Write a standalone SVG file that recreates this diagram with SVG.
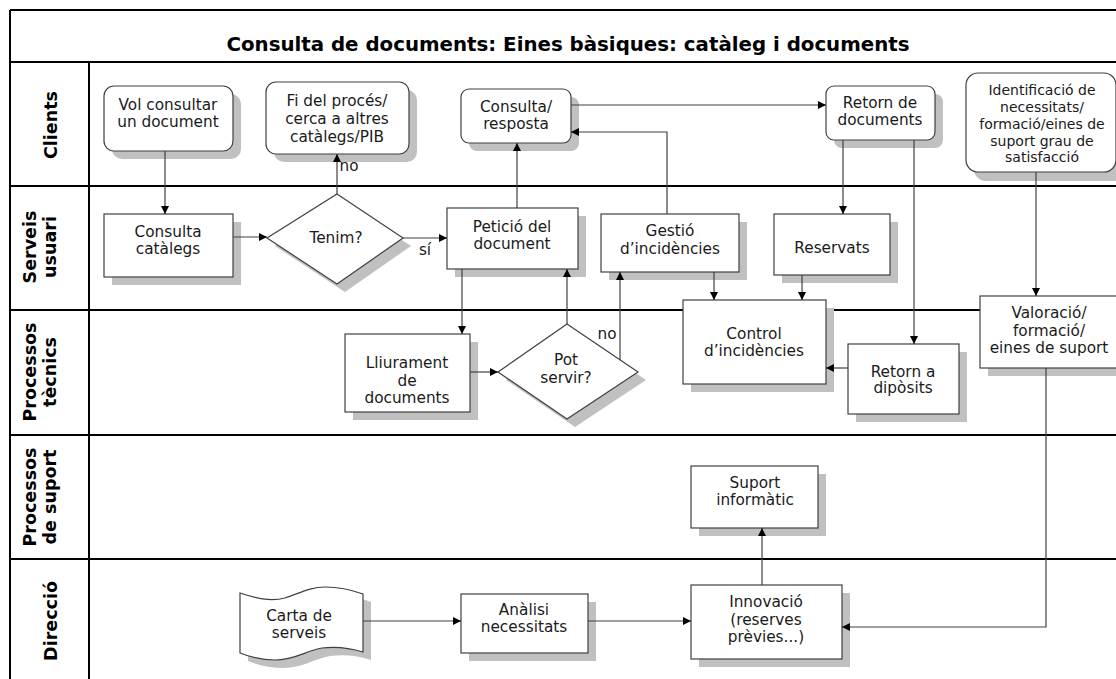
<svg xmlns="http://www.w3.org/2000/svg" width="1116" height="679" viewBox="0 0 1116 679">
<defs>
<style>
.frame{fill:none;stroke:#000;stroke-width:2}
.box{fill:#fff;stroke:#404040;stroke-width:1.2}
.sh{fill:#c0c0c0;stroke:none}
.t{font-family:"DejaVu Sans",Verdana,sans-serif;font-size:15.3px;fill:#1a1a1a;text-anchor:middle}
.ts{font-family:"DejaVu Sans",Verdana,sans-serif;font-size:14px;fill:#1a1a1a;text-anchor:middle}
.lane{font-family:"DejaVu Sans",Verdana,sans-serif;font-size:17.5px;font-weight:bold;fill:#000;text-anchor:middle}
.title{font-family:"DejaVu Sans",Verdana,sans-serif;font-size:19.8px;font-weight:bold;fill:#000;text-anchor:middle}
.c{fill:none;stroke:#404040;stroke-width:1.2}
</style>
<marker id="arr" viewBox="0 0 10 10" refX="10" refY="5" markerWidth="8" markerHeight="8" markerUnits="userSpaceOnUse" orient="auto">
<path d="M0,0 L10,5 L0,10 z" fill="#000"/>
</marker>
</defs>
<rect width="1116" height="679" fill="#fff"/>

<g id="frame">
<line class="frame" x1="10" y1="10" x2="1116" y2="10"/>
<line class="frame" x1="10" y1="10" x2="10" y2="679"/>
<line class="frame" x1="10" y1="62" x2="1116" y2="62"/>
<line class="frame" x1="89" y1="62" x2="89" y2="679"/>
<line class="frame" x1="10" y1="186" x2="1116" y2="186"/>
<line class="frame" x1="10" y1="310" x2="1116" y2="310"/>
<line class="frame" x1="10" y1="435" x2="1116" y2="435"/>
<line class="frame" x1="10" y1="559" x2="1116" y2="559"/>
<text class="title" x="568" y="51">Consulta de documents: Eines bàsiques: catàleg i documents</text>
</g>

<g id="lanes">
<text class="lane" transform="translate(57,125) rotate(-90)">Clients</text>
<text class="lane" transform="translate(36,247) rotate(-90)">Serveis</text>
<text class="lane" transform="translate(56,247) rotate(-90)">usuari</text>
<text class="lane" transform="translate(36,372) rotate(-90)">Processos</text>
<text class="lane" transform="translate(56,372) rotate(-90)">tècnics</text>
<text class="lane" transform="translate(36,497) rotate(-90)">Processos</text>
<text class="lane" transform="translate(56,497) rotate(-90)">de suport</text>
<text class="lane" transform="translate(57,621) rotate(-90)">Direcció</text>
</g>

<g id="n-vol">
<rect class="sh" x="112" y="94" width="129" height="65" rx="10"/>
<rect class="box" x="104" y="86" width="129" height="65" rx="10"/>
<text class="t" x="168" y="110">Vol consultar</text>
<text class="t" x="168" y="127">un document</text>
</g>

<g id="n-fi">
<rect class="sh" x="274" y="90" width="143" height="72" rx="10"/>
<rect class="box" x="266" y="82" width="143" height="72" rx="10"/>
<text class="t" x="337" y="106">Fi del procés/</text>
<text class="t" x="337" y="124">cerca a altres</text>
<text class="t" x="337" y="142">catàlegs/PIB</text>
</g>

<g id="n-consulta-resposta">
<rect class="sh" x="469" y="97" width="110" height="54" rx="8"/>
<rect class="box" x="461" y="89" width="110" height="54" rx="8"/>
<text class="t" x="516" y="112">Consulta/</text>
<text class="t" x="516" y="129">resposta</text>
</g>

<g id="n-retorn-docs">
<rect class="sh" x="834" y="94" width="109" height="54" rx="8"/>
<rect class="box" x="826" y="86" width="109" height="54" rx="8"/>
<text class="t" x="880" y="108">Retorn de</text>
<text class="t" x="880" y="125">documents</text>
</g>

<g id="n-identificacio">
<rect class="sh" x="974" y="81" width="160" height="100" rx="12"/>
<rect class="box" x="966" y="73" width="150" height="99" rx="12"/>
<text class="ts" x="1042" y="95">Identificació de</text>
<text class="ts" x="1042" y="112">necessitats/</text>
<text class="ts" x="1042" y="129">formació/eines de</text>
<text class="ts" x="1042" y="146">suport grau de</text>
<text class="ts" x="1042" y="162">satisfacció</text>
</g>

<g id="n-consulta-catalegs">
<rect class="sh" x="112" y="222" width="129" height="63"/>
<rect class="box" x="104" y="214" width="129" height="63"/>
<text class="t" x="168" y="237">Consulta</text>
<text class="t" x="168" y="254">catàlegs</text>
</g>

<g id="n-tenim">
<polygon class="sh" points="345,202 411,246 345,292 275,246"/>
<polygon class="box" points="337,194 403,238 337,284 267,238"/>
<text class="t" x="336" y="243">Tenim?</text>
</g>

<g id="n-peticio">
<rect class="sh" x="455" y="216" width="131" height="61"/>
<rect class="box" x="447" y="208" width="131" height="61"/>
<text class="t" x="512" y="232">Petició del</text>
<text class="t" x="512" y="249">document</text>
</g>

<g id="n-gestio">
<rect class="sh" x="609" y="222" width="138" height="58"/>
<rect class="box" x="601" y="214" width="138" height="58"/>
<text class="t" x="670" y="236">Gestió</text>
<text class="t" x="670" y="254">d’incidències</text>
</g>

<g id="n-reservats">
<rect class="sh" x="782" y="222" width="116" height="61"/>
<rect class="box" x="774" y="214" width="116" height="61"/>
<text class="t" x="832" y="253">Reservats</text>
</g>

<g id="n-lliurament">
<rect class="sh" x="353" y="342" width="125" height="78"/>
<rect class="box" x="345" y="334" width="125" height="78"/>
<text class="t" x="407" y="368">Lliurament</text>
<text class="t" x="407" y="386">de</text>
<text class="t" x="407" y="403">documents</text>
</g>

<g id="n-pot-servir">
<polygon class="sh" points="575,332 646,380 575,427 506,380"/>
<polygon class="box" points="567,324 638,372 567,419 498,372"/>
<text class="t" x="566" y="365">Pot</text>
<text class="t" x="566" y="383">servir?</text>
</g>

<g id="n-control">
<rect class="sh" x="691" y="308" width="143" height="84"/>
<rect class="box" x="683" y="300" width="143" height="84"/>
<text class="t" x="754" y="339">Control</text>
<text class="t" x="754" y="356">d’incidències</text>
</g>

<g id="n-retorn-diposits">
<rect class="sh" x="856" y="352" width="111" height="70"/>
<rect class="box" x="848" y="344" width="111" height="70"/>
<text class="t" x="903" y="377">Retorn a</text>
<text class="t" x="903" y="393">dipòsits</text>
</g>

<g id="n-valoracio">
<rect class="sh" x="988" y="304" width="140" height="72"/>
<rect class="box" x="980" y="296" width="140" height="72"/>
<text class="t" x="1049" y="318">Valoració/</text>
<text class="t" x="1049" y="336">formació/</text>
<text class="t" x="1049" y="353">eines de suport</text>
</g>

<g id="n-suport">
<rect class="sh" x="699" y="474" width="127" height="62"/>
<rect class="box" x="691" y="466" width="127" height="62"/>
<text class="t" x="755" y="488">Suport</text>
<text class="t" x="755" y="505">informàtic</text>
</g>

<g id="n-carta">
<path class="sh" d="M248,601 C263,606 278,610 293,606 C308,601 318,595 333,595 C348,595 360,598 371,602 L371,660 C358,656 346,654 330,656 C313,659 303,668 283,668 C270,668 258,665 248,661 Z"/>
<path class="box" d="M240,593 C255,598 270,602 285,598 C300,593 310,587 325,587 C340,587 352,590 363,594 L363,652 C350,648 338,646 322,648 C305,651 295,660 275,660 C262,660 250,657 240,653 Z"/>
<text class="t" x="299" y="621">Carta de</text>
<text class="t" x="299" y="638">serveis</text>
</g>

<g id="n-analisi">
<rect class="sh" x="469" y="602" width="127" height="59"/>
<rect class="box" x="461" y="594" width="127" height="59"/>
<text class="t" x="524" y="615">Anàlisi</text>
<text class="t" x="524" y="632">necessitats</text>
</g>

<g id="n-innovacio">
<rect class="sh" x="699" y="593" width="151" height="74"/>
<rect class="box" x="691" y="585" width="151" height="74"/>
<text class="t" x="766" y="607">Innovació</text>
<text class="t" x="766" y="625">(reserves</text>
<text class="t" x="766" y="642">prèvies...)</text>
</g>

<g id="connectors">
<line class="c" x1="165" y1="151" x2="165" y2="214" marker-end="url(#arr)"/>
<line class="c" x1="233" y1="237" x2="267" y2="237" marker-end="url(#arr)"/>
<line class="c" x1="337" y1="194" x2="337" y2="154" marker-end="url(#arr)"/>
<line class="c" x1="403" y1="238" x2="447" y2="238" marker-end="url(#arr)"/>
<line class="c" x1="517" y1="208" x2="517" y2="143" marker-end="url(#arr)"/>
<line class="c" x1="462" y1="269" x2="462" y2="334" marker-end="url(#arr)"/>
<line class="c" x1="470" y1="372" x2="498" y2="372" marker-end="url(#arr)"/>
<line class="c" x1="567" y1="324" x2="567" y2="269" marker-end="url(#arr)"/>
<line class="c" x1="620" y1="360" x2="620" y2="272" marker-end="url(#arr)"/>
<polyline class="c" points="667,214 667,132 571,132" marker-end="url(#arr)"/>
<line class="c" x1="571" y1="105" x2="826" y2="105" marker-end="url(#arr)"/>
<line class="c" x1="843" y1="140" x2="843" y2="214" marker-end="url(#arr)"/>
<line class="c" x1="914" y1="140" x2="914" y2="344" marker-end="url(#arr)"/>
<line class="c" x1="714" y1="272" x2="714" y2="300" marker-end="url(#arr)"/>
<line class="c" x1="802" y1="275" x2="802" y2="300" marker-end="url(#arr)"/>
<line class="c" x1="848" y1="368" x2="826" y2="368" marker-end="url(#arr)"/>
<line class="c" x1="1036" y1="172" x2="1036" y2="296" marker-end="url(#arr)"/>
<polyline class="c" points="1046,368 1046,627 842,627" marker-end="url(#arr)"/>
<line class="c" x1="762" y1="585" x2="762" y2="528" marker-end="url(#arr)"/>
<line class="c" x1="588" y1="621" x2="691" y2="621" marker-end="url(#arr)"/>
<line class="c" x1="363" y1="621" x2="461" y2="621" marker-end="url(#arr)"/>
<text class="t" x="349" y="171">no</text>
<text class="t" x="425" y="255">sí</text>
<text class="t" x="607" y="339">no</text>
</g>
</svg>
